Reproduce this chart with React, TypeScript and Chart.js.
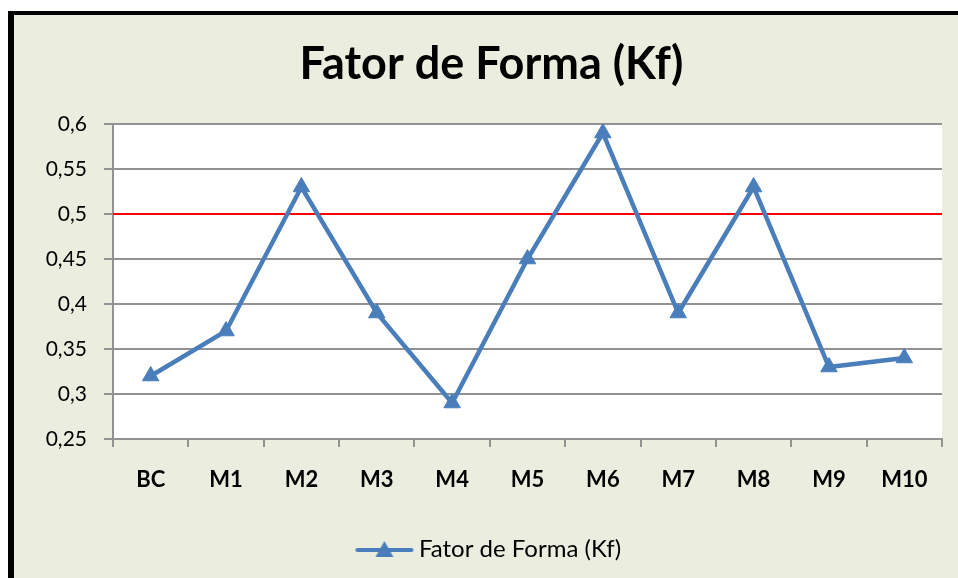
import React, { useEffect, useRef } from 'react';
import { Chart, registerables } from 'chart.js';

Chart.register(...registerables);

const titleText = 'Fator de Forma (Kf)';
const seriesLabel = 'Fator de Forma (Kf)';
const categories = ['BC', 'M1', 'M2', 'M3', 'M4', 'M5', 'M6', 'M7', 'M8', 'M9', 'M10'];
const kfValues = [0.32, 0.37, 0.53, 0.39, 0.29, 0.45, 0.59, 0.39, 0.53, 0.33, 0.34];
const yTickValues = [0.25, 0.3, 0.35, 0.4, 0.45, 0.5, 0.55, 0.6];
const yTickLabels = ['0,25', '0,3', '0,35', '0,4', '0,45', '0,5', '0,55', '0,6'];
const referenceLine = 0.5;

const FONT = 'Lato, "Open Sans", sans-serif';
const SERIES_COLOR = '#4A7EBB';
const GRID_COLOR = '#929292';

function makeLegendImage(): HTMLCanvasElement {
  const c = document.createElement('canvas');
  c.width = 60;
  c.height = 20;
  const ctx = c.getContext('2d')!;
  ctx.strokeStyle = SERIES_COLOR;
  ctx.lineWidth = 4;
  ctx.lineCap = 'round';
  ctx.beginPath();
  ctx.moveTo(3, 11);
  ctx.lineTo(57, 11);
  ctx.stroke();
  ctx.fillStyle = SERIES_COLOR;
  ctx.beginPath();
  ctx.moveTo(30, 2);
  ctx.lineTo(39, 18);
  ctx.lineTo(21, 18);
  ctx.closePath();
  ctx.fill();
  return c;
}

const plotBgPlugin = {
  id: 'plotBg',
  beforeDraw(chart: any) {
    const { ctx, chartArea } = chart;
    ctx.save();
    ctx.fillStyle = '#FFFFFF';
    ctx.fillRect(chartArea.left, chartArea.top, chartArea.right - chartArea.left, chartArea.bottom - chartArea.top);
    ctx.restore();
  },
};

const refLinePlugin = {
  id: 'refLine',
  beforeDatasetsDraw(chart: any) {
    const { ctx, chartArea } = chart;
    const y = chart.scales.y.getPixelForValue(referenceLine);
    ctx.save();
    ctx.strokeStyle = '#FF0000';
    ctx.lineWidth = 2;
    ctx.beginPath();
    ctx.moveTo(chartArea.left, y);
    ctx.lineTo(chartArea.right, y);
    ctx.stroke();
    ctx.restore();
  },
};

export default function App() {
  const ref = useRef<HTMLCanvasElement>(null);

  useEffect(() => {
    document.body.style.overflow = 'hidden';
    const legendImg = makeLegendImage();
    const chart = new Chart(ref.current!, {
      type: 'line',
      data: {
        labels: categories,
        datasets: [
          {
            label: seriesLabel,
            data: kfValues,
            borderColor: SERIES_COLOR,
            backgroundColor: SERIES_COLOR,
            borderWidth: 4.5,
            pointStyle: 'triangle',
            pointRadius: 9.5,
            pointBorderWidth: 1,
            pointBackgroundColor: SERIES_COLOR,
            pointBorderColor: SERIES_COLOR,
            tension: 0,
          },
        ],
      },
      options: {
        responsive: false,
        animation: false,
        layout: { padding: { left: 27, right: 16, top: 0, bottom: 7 } },
        plugins: {
          title: {
            display: true,
            text: titleText,
            color: '#000',
            font: { family: FONT, size: 45, weight: 'bold' },
            padding: { top: 22, bottom: 33 },
          },
          legend: {
            display: true,
            position: 'bottom',
            labels: {
              usePointStyle: true,
              pointStyle: legendImg as any,
              pointStyleWidth: 45,
              color: '#000',
              font: { family: FONT, size: 24 },
              padding: 10,
            },
          },
          tooltip: { enabled: false },
        },
        scales: {
          x: {
            type: 'category',
            offset: true,
            grid: {
              display: true,
              offset: true,
              drawOnChartArea: false,
              drawTicks: true,
              tickLength: 8,
              color: GRID_COLOR,
              lineWidth: 2,
            },
            border: { display: true, color: GRID_COLOR, width: 2 },
            ticks: {
              color: '#000',
              font: { family: FONT, size: 22, weight: 'bold' },
              padding: 20,
              maxRotation: 0,
              autoSkip: false,
            },
            afterFit(scale: any) {
              scale.height = 88;
            },
          },
          y: {
            min: 0.25,
            max: 0.6,
            afterBuildTicks(scale: any) {
              scale.ticks = yTickValues.map((v) => ({ value: v }));
            },
            grid: {
              display: true,
              drawOnChartArea: true,
              drawTicks: true,
              tickLength: 9,
              color: GRID_COLOR,
              lineWidth: 2,
            },
            border: { display: true, color: GRID_COLOR, width: 2 },
            ticks: {
              color: '#000',
              font: { family: FONT, size: 21 },
              padding: 17,
              callback: (_v: any, i: number) => yTickLabels[i],
            },
            afterFit(scale: any) {
              scale.width = 72;
            },
          },
        },
      },
      plugins: [plotBgPlugin, refLinePlugin],
    });
    return () => chart.destroy();
  }, []);

  return (
    <div
      style={{
        position: 'absolute',
        left: 8,
        top: 11,
        width: 950,
        height: 567,
        boxSizing: 'border-box',
        borderLeft: '6px solid #000',
        borderTop: '4px solid #000',
        background: '#EBEEDF',
      }}
    >
      <canvas ref={ref} width={944} height={563} style={{ display: 'block' }} />
    </div>
  );
}
